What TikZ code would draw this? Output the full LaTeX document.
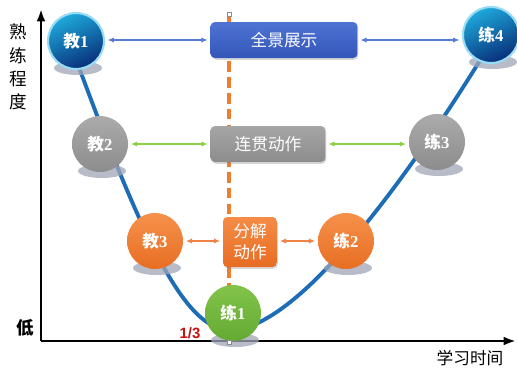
\documentclass[tikz,border=0pt]{standalone}
\usepackage{fontspec}
\setmainfont{Noto Sans CJK SC}
\newfontfamily\numfont{Liberation Serif}
\newfontfamily\arialfont{Liberation Sans}
\usetikzlibrary{arrows.meta,shadows}
\definecolor{curveblue}{RGB}{28,108,182}
\definecolor{cutorange}{RGB}{238,125,49}
\definecolor{showblue}{RGB}{62,98,198}
\definecolor{linkblue}{RGB}{86,124,212}
\definecolor{linkgreen}{RGB}{140,208,72}
\definecolor{linkorange}{RGB}{240,130,70}
\definecolor{platecol}{RGB}{160,166,182}
\definecolor{thirdred}{RGB}{200,16,16}
\tikzstyle{ball}=[circle, minimum size=1.12cm, inner sep=0pt, text=white, font=\bfseries\fontsize{9.5}{10}\selectfont]
\tikzstyle{blueball}=[ball, top color={rgb,255:red,30;green,170;blue,220}, bottom color={rgb,255:red,8;green,45;blue,120}, shading angle=25, draw={rgb,255:red,150;green,220;blue,245}, line width=1.2pt]
\tikzstyle{grayball}=[ball, top color=black!33, bottom color=black!45]
\tikzstyle{orangeball}=[ball, top color={rgb,255:red,245;green,145;blue,75}, bottom color={rgb,255:red,232;green,110;blue,35}]
\tikzstyle{greenball}=[ball, top color={rgb,255:red,130;green,195;blue,75}, bottom color={rgb,255:red,100;green,170;blue,50}]
\tikzstyle{box}=[rectangle, rounded corners=2.5pt, inner sep=0pt, text=white, font=\fontsize{9.5}{12}\selectfont, align=center, drop shadow={opacity=0.3, shadow xshift=0.5pt, shadow yshift=-1pt}]
\tikzstyle{plate}=[fill=platecol, opacity=0.75]
\tikzstyle{link}=[line width=0.6pt, {Latex[length=3.5pt,width=3pt]}-{Latex[length=3.5pt,width=3pt]}, shorten <=1.5pt, shorten >=1.5pt]
\tikzstyle{axis}=[line width=1.6pt, -{Latex[length=7pt,width=5pt]}]
\tikzstyle{handle}=[rectangle, minimum size=2.5pt, inner sep=0pt, fill=white, draw=black!45, line width=0.3pt]
\tikzstyle{annot}=[align=center, inner sep=0pt]
\newcommand{\drawstage}[4]
{
  \fill[plate] (#2) ++(2,27) ellipse (24 and 7);
  \node[#3] (#1) at (#2) {#4};
}

\begin{document}
\begin{tikzpicture}[x=0.02cm, y=-0.02cm]
	\useasboundingbox (0,0) rectangle (517,370);

	% axes
	\coordinate (origin) at (41,341);
	\coordinate (ytip) at (41,9);
	\coordinate (xtip) at (516,341);
	\draw[axis] (origin) -- (ytip);
	\draw[axis] (origin) -- (xtip);
	\node[annot, font=\fontsize{10}{13.2}\selectfont] (ylabel) at (18,67) {熟\\练\\程\\度};
	\node[annot, font=\bfseries\fontsize{10}{12}\selectfont] (low) at (25,328) {低};
	\node[annot, font=\fontsize{9.5}{12}\selectfont] (xlabel) at (470,358) {学习时间};
	\node[annot, text=thirdred, font=\arialfont\bfseries\fontsize{8.5}{10}\selectfont] (third) at (190,333) {1/3};

	% one third cut
	\coordinate (cuttop) at (229,14);
	\coordinate (cutbot) at (229,342);
	\draw[cutorange, line width=1.8pt, dash pattern=on 6pt off 3pt] (cuttop) -- (cutbot);

	% learning curve
	\draw[curveblue, line width=2.2pt] (77,62) .. controls (150,260) and (190,335) .. (235,330)
		.. controls (300,322) and (400,190) .. (484,54);

	% boxes
	\node[box, minimum width=2.94cm, minimum height=0.72cm, top color={rgb,255:red,78;green,116;blue,212}, bottom color={rgb,255:red,52;green,86;blue,185}] (show) at (284,40) {全景展示};
	\node[box, minimum width=2.3cm, minimum height=0.72cm, top color=black!35, bottom color=black!45] (flow) at (268,144) {连贯动作};
	\node[box, minimum width=1.08cm, minimum height=1.0cm, top color={rgb,255:red,245;green,140;blue,70}, bottom color={rgb,255:red,232;green,108;blue,35}] (split) at (250,242) {分解\\动作};

	% stages
	\drawstage{t1}{76,41}{blueball}{教{\numfont 1}}
	\drawstage{t2}{100,144}{grayball}{教{\numfont 2}}
	\drawstage{t3}{155,241}{orangeball}{教{\numfont 3}}
	\drawstage{p1}{233,313}{greenball}{练{\numfont 1}}
	\drawstage{p2}{346,241}{orangeball}{练{\numfont 2}}
	\drawstage{p3}{437,142}{grayball}{练{\numfont 3}}
	\drawstage{p4}{491,35}{blueball}{练{\numfont 4}}

	\node[handle] (htop) at (cuttop) {};
	\node[handle] (hbot) at (cutbot) {};

	% links
	\draw[link, linkblue] (t1.east |- show.west) -- (show.west);
	\draw[link, linkblue] (show.east) -- (show.east -| p4.west);
	\draw[link, linkgreen] (t2.east |- flow.west) -- (flow.west);
	\draw[link, linkgreen] (flow.east) -- (flow.east -| p3.west);
	\draw[link, linkorange] (t3.east) -- (split.west |- t3.east);
	\draw[link, linkorange] (split.east |- p2.west) -- (p2.west);

\end{tikzpicture}
\end{document}
